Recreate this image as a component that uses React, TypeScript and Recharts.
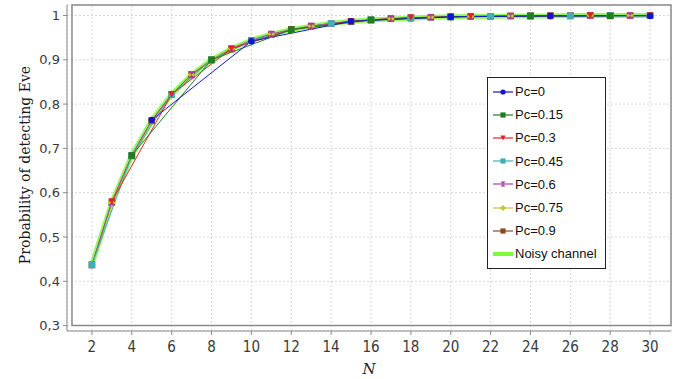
import {
  CartesianGrid,
  Line,
  LineChart,
  ReferenceArea,
  XAxis,
  YAxis,
} from "recharts";

// N values (x) per series; every series is sampled on its own grid
const nAll = [2, 3, 4, 5, 6, 7, 8, 9, 10, 11, 12, 13, 14, 15, 16, 17, 18, 19, 20, 21, 22, 23, 24, 25, 26, 27, 28, 29, 30];
const nStep2 = [2, 4, 6, 8, 10, 12, 14, 16, 18, 20, 22, 24, 26, 28, 30];
const nStep3 = [3, 6, 9, 12, 15, 18, 21, 24, 27, 30];
const nStep4 = [4, 8, 12, 16, 20, 24, 28];
const nStep5 = [5, 10, 15, 20, 25, 30];

// probability of detecting Eve
const pc0 = [0.764, 0.942, 0.987, 0.997, 0.999, 0.999];
const pc015 = [0.684, 0.9, 0.968, 0.99, 0.997, 0.999, 0.999];
const pc03 = [0.58, 0.822, 0.925, 0.968, 0.987, 0.995, 0.998, 0.999, 1.0, 1.0];
const pc045 = [0.437, 0.683, 0.822, 0.9, 0.943, 0.968, 0.982, 0.99, 0.994, 0.997, 0.998, 0.999, 0.999, 1.0, 1.0];
const pc06 = [0.437, 0.579, 0.684, 0.763, 0.822, 0.866, 0.899, 0.925, 0.944, 0.958, 0.968, 0.976, 0.982, 0.987, 0.99, 0.993, 0.994, 0.996, 0.997, 0.998, 0.998, 0.999, 0.999, 0.999, 0.999, 1.0, 1.0, 1.0, 1.0];
const pc075 = [0.437, 0.577, 0.682, 0.762, 0.821, 0.866, 0.9, 0.925, 0.943, 0.958, 0.968, 0.976, 0.982, 0.987, 0.99, 0.992, 0.994, 0.996, 0.997, 0.998, 0.998, 0.999, 0.999, 0.999, 1.0, 1.0, 1.0, 1.0, 1.0];
const pc09 = [0.437, 0.578, 0.683, 0.762, 0.822, 0.867, 0.9, 0.924, 0.943, 0.957, 0.968, 0.976, 0.982, 0.986, 0.99, 0.993, 0.995, 0.996, 0.997, 0.998, 0.998, 0.999, 0.999, 1.0, 1.0, 1.0, 1.0, 1.0, 1.0];
const noisy = [0.438, 0.578, 0.684, 0.763, 0.822, 0.866, 0.9, 0.925, 0.944, 0.958, 0.968, 0.976, 0.982, 0.987, 0.99, 0.992, 0.994, 0.996, 0.997, 0.998, 0.998, 0.999, 0.999, 0.999, 1.0, 1.0, 1.0, 1.0, 1.0];

const xTicks = [2, 4, 6, 8, 10, 12, 14, 16, 18, 20, 22, 24, 26, 28, 30];
const yTicks = [0.3, 0.4, 0.5, 0.6, 0.7, 0.8, 0.9, 1.0];

type Shape = "circle" | "square" | "triDown" | "hourglass" | "diamond" | "none";

interface SeriesDef {
  name: string;
  color: string;
  shape: Shape;
  width: number;
  data: { n: number; p: number }[];
}

const toRows = (ns: number[], ps: number[]) => ns.map((n, i) => ({ n, p: ps[i] }));

// legend order
const series: SeriesDef[] = [
  { name: "Pc=0", color: "#1414c8", shape: "circle", width: 1, data: toRows(nStep5, pc0) },
  { name: "Pc=0.15", color: "#1f7f1f", shape: "square", width: 1, data: toRows(nStep4, pc015) },
  { name: "Pc=0.3", color: "#e02424", shape: "triDown", width: 1, data: toRows(nStep3, pc03) },
  { name: "Pc=0.45", color: "#3fb0b4", shape: "square", width: 1, data: toRows(nStep2, pc045) },
  { name: "Pc=0.6", color: "#a83ca8", shape: "hourglass", width: 1, data: toRows(nAll, pc06) },
  { name: "Pc=0.75", color: "#c8c43c", shape: "diamond", width: 1, data: toRows(nAll, pc075) },
  { name: "Pc=0.9", color: "#8c4a1c", shape: "square", width: 1, data: toRows(nAll, pc09) },
  { name: "Noisy channel", color: "#7dfa3c", shape: "none", width: 5, data: toRows(nAll, noisy) },
];

const drawOrder = [...series].reverse();

function markerEl(shape: Shape, cx: number, cy: number, color: string, s = 3.3) {
  switch (shape) {
    case "circle":
      return <circle cx={cx} cy={cy} r={s} fill={color} />;
    case "square":
      return <rect x={cx - s} y={cy - s} width={s * 2} height={s * 2} fill={color} />;
    case "triDown":
      return (
        <polygon
          points={`${cx - s},${cy - s} ${cx + s},${cy - s} ${cx},${cy + s}`}
          fill={color}
        />
      );
    case "hourglass":
      return (
        <polygon
          points={`${cx - s},${cy - s} ${cx + s},${cy - s} ${cx - s},${cy + s} ${cx + s},${cy + s}`}
          fill={color}
        />
      );
    case "diamond":
      return (
        <polygon
          points={`${cx},${cy - s - 0.5} ${cx + s + 0.5},${cy} ${cx},${cy + s + 0.5} ${cx - s - 0.5},${cy}`}
          fill={color}
        />
      );
    default:
      return null;
  }
}

function LegendBox() {
  return (
    <div
      style={{
        position: "absolute",
        left: 487,
        top: 77,
        width: 117,
        border: "1px solid #222",
        background: "#fff",
        padding: "2px 0",
        fontFamily: "'Liberation Sans', Arial, sans-serif",
        fontSize: 13,
        color: "#111",
      }}
    >
      {series.map((s) => (
        <div key={s.name} style={{ height: 23.2, display: "flex", alignItems: "center" }}>
          <svg width={27} height={12} style={{ flex: "none" }}>
            <line
              x1={5}
              x2={25}
              y1={6}
              y2={6}
              stroke={s.color}
              strokeWidth={s.width === 1 ? 1.2 : 4}
            />
            {markerEl(s.shape, 15, 6, s.color, 2.6)}
          </svg>
          <span style={{ whiteSpace: "nowrap" }}>{s.name}</span>
        </div>
      ))}
    </div>
  );
}

const fmtY = (v: number) => (v === 1 ? "1" : v.toFixed(1).replace(".", ","));

export default function App() {
  return (
    <div style={{ position: "absolute", left: 0, top: 0, width: 688, height: 379, background: "#fff" }}>
      <LineChart width={688} height={379} margin={{ top: 5, right: 17, bottom: 0, left: 0 }}>
        <CartesianGrid stroke="#d6d6d6" strokeDasharray="2 2" />
        <XAxis
          type="number"
          dataKey="n"
          domain={[0.75, 31.05]}
          ticks={xTicks}
          allowDataOverflow
          height={48}
          tickSize={4}
          tickMargin={6}
          stroke="#8a8a8a"
          tick={{ fill: "#3a3a3a", fontSize: 15, fontFamily: "'DejaVu Sans Condensed', 'DejaVu Sans', sans-serif" }}
          label={{
            value: "N",
            position: "insideBottom",
            offset: 5,
            fill: "#222",
            fontSize: 15,
            fontStyle: "italic",
            fontFamily: "'DejaVu Serif', serif",
          }}
        />
        <YAxis
          type="number"
          dataKey="p"
          domain={[0.2877, 1.0237]}
          ticks={yTicks}
          interval={0}
          allowDataOverflow
          width={67}
          tickSize={4}
          tickMargin={3}
          stroke="#8a8a8a"
          tickFormatter={fmtY}
          tick={{ fill: "#3a3a3a", fontSize: 13, fontFamily: "'DejaVu Sans', sans-serif" }}
          label={{
            content: () => (
              <text
                x={25}
                y={165}
                transform="rotate(-90 25 165)"
                textAnchor="middle"
                dominantBaseline="central"
                fill="#1a1a1a"
                fontSize={14}
                fontFamily="'DejaVu Serif', serif"
              >
                Probability of detecting Eve
              </text>
            ),
          }}
        />
        <ReferenceArea
          x1={1}
          x2={31.05}
          y1={0.3}
          y2={1.0237}
          fill="none"
          stroke="#8a8a8a"
          strokeWidth={1.5}
          fillOpacity={0}
        />
        {drawOrder.map((s) => (
          <Line
            key={`line-${s.name}`}
            data={s.data}
            dataKey="p"
            name={s.name}
            type="linear"
            stroke={s.color}
            strokeWidth={s.width}
            strokeOpacity={s.width > 1 ? 0.85 : 1}
            dot={false}
            activeDot={false}
            legendType="none"
            isAnimationActive={false}
          />
        ))}
        {drawOrder
          .filter((s) => s.shape !== "none")
          .map((s) => (
            <Line
              key={`dots-${s.name}`}
              data={s.data}
              dataKey="p"
              name={`${s.name} marks`}
              type="linear"
              stroke="none"
              activeDot={false}
              legendType="none"
              isAnimationActive={false}
              dot={(props: any) => (
                <g key={`${s.name}-${props.index}`}>
                  {markerEl(s.shape, props.cx, props.cy, s.color)}
                </g>
              )}
            />
          ))}
      </LineChart>
      <LegendBox />
    </div>
  );
}
